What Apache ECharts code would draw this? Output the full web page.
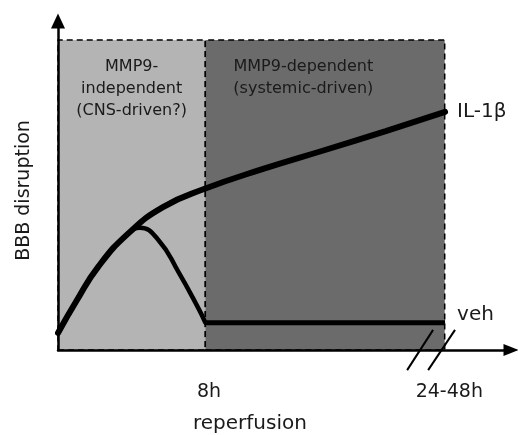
<!DOCTYPE html>
<html>
<head>
<meta charset="utf-8">
<script src="https://cdn.jsdelivr.net/npm/echarts@6/dist/echarts.min.js"></script>
<style>
  html, body { margin: 0; padding: 0; background: #ffffff; }
  #chart { width: 518px; height: 435px; }
</style>
</head>
<body>
<div id="chart"></div>
<script>
// ---- data (x: time units, 8 = 8h; y: relative BBB disruption) ----
const regionNames = ['MMP9-\nindependent\n(CNS-driven?)', 'MMP9-dependent\n(systemic-driven)'];
const regionBounds = [[0, 8], [8, 21]];
const regionTop = 10;
const il1bPoints = [[0, 0.55], [1.0, 1.58], [2.19, 2.69], [3.82, 3.76], [5.70, 4.61], [7.93, 5.19], [11.14, 5.84], [14.5, 6.45], [17.8, 7.06], [21.02, 7.68]];
const vehPeakPoints = [[0, 0.55], [1.0, 1.58], [2.19, 2.69], [3.82, 3.76], [4.45, 3.94], [5.45, 3.55], [6.53, 2.53], [7.62, 1.35], [8, 0.88]];
const vehPlateauPoints = [[8, 0.88], [21.02, 0.88]];
const breakMarkA = [[18.96, -0.65], [20.37, 0.65]];
const breakMarkB = [[20.1, -0.65], [21.56, 0.65]];
const xTickValues = [8.2, 21.25];
const xTickLabels = ['8h', '24-48h'];

const FONT = 'DejaVu Sans';
const TXT = '#1a1a1a';

const chart = echarts.init(document.getElementById('chart'), null, { renderer: 'canvas' });

const regionFill = ['#b4b4b4', '#6b6b6b'];
const regionLabelPos = [['50%', 17], ['41%', 17]];

const option = {
  animation: false,
  backgroundColor: '#ffffff',
  title: {
    text: 'reperfusion',
    left: 188,
    top: 409,
    textStyle: { fontFamily: FONT, fontSize: 20, fontWeight: 'normal', color: TXT }
  },
  grid: { left: 58, right: 7, top: 21, bottom: 85, containLabel: false },
  xAxis: {
    type: 'value',
    min: 0,
    max: 24.6,
    z: 5,
    splitLine: { show: false },
    axisTick: { show: false },
    axisLine: {
      lineStyle: { color: '#000', width: 2.5 },
      symbol: ['none', 'triangle'],
      symbolSize: [12, 15]
    },
    axisLabel: {
      customValues: xTickValues,
      formatter: function (v) {
        const i = xTickValues.indexOf(v);
        return i >= 0 ? xTickLabels[i] : '';
      },
      margin: 33,
      fontFamily: FONT,
      fontSize: 19,
      color: TXT
    }
  },
  yAxis: {
    type: 'value',
    min: 0,
    max: 10.61,
    z: 5,
    name: 'BBB disruption',
    nameLocation: 'middle',
    nameGap: 24,
    nameTextStyle: { fontFamily: FONT, fontSize: 19, color: TXT, padding: [0, 10, 0, 0] },
    splitLine: { show: false },
    axisTick: { show: false },
    axisLabel: { show: false },
    axisLine: {
      lineStyle: { color: '#000', width: 2.5 },
      symbol: ['none', 'triangle'],
      symbolSize: [14, 15]
    }
  },
  series: [
    {
      name: 'regions',
      type: 'line',
      data: [],
      z: 1,
      markArea: {
        silent: true,
        data: regionBounds.map(function (b, i) {
          return [
            {
              name: regionNames[i],
              xAxis: b[0],
              yAxis: 0,
              itemStyle: {
                color: regionFill[i],
                borderColor: '#000',
                borderWidth: 1.5,
                borderType: [6, 4]
              },
              label: {
                show: true,
                position: regionLabelPos[i],
                align: 'center',
                verticalAlign: 'top',
                fontFamily: FONT,
                fontSize: 16,
                lineHeight: 22,
                color: TXT
              }
            },
            { xAxis: b[1], yAxis: regionTop }
          ];
        })
      }
    },
    {
      name: 'IL-1β',
      type: 'line',
      data: il1bPoints,
      smooth: 0.5,
      showSymbol: false,
      z: 3,
      lineStyle: { color: '#000', width: 6, cap: 'round' },
      endLabel: {
        show: true,
        formatter: 'IL-1β',
        distance: 12,
        fontFamily: FONT,
        fontSize: 20,
        color: TXT
      }
    },
    {
      name: 'veh',
      type: 'line',
      data: vehPeakPoints,
      smooth: 0.5,
      showSymbol: false,
      z: 3,
      lineStyle: { color: '#000', width: 4.5, cap: 'round' }
    },
    {
      name: 'veh plateau',
      type: 'line',
      data: vehPlateauPoints,
      showSymbol: false,
      z: 3,
      lineStyle: { color: '#000', width: 5 },
      endLabel: {
        show: true,
        formatter: 'veh',
        distance: 12,
        offset: [0, -8],
        fontFamily: FONT,
        fontSize: 20,
        color: TXT
      }
    },
    {
      name: 'break A',
      type: 'line',
      data: breakMarkA,
      clip: false,
      showSymbol: false,
      z: 6,
      lineStyle: { color: '#000', width: 2 }
    },
    {
      name: 'break B',
      type: 'line',
      data: breakMarkB,
      clip: false,
      showSymbol: false,
      z: 6,
      lineStyle: { color: '#000', width: 2 }
    }
  ]
};

chart.setOption(option);
</script>
</body>
</html>
